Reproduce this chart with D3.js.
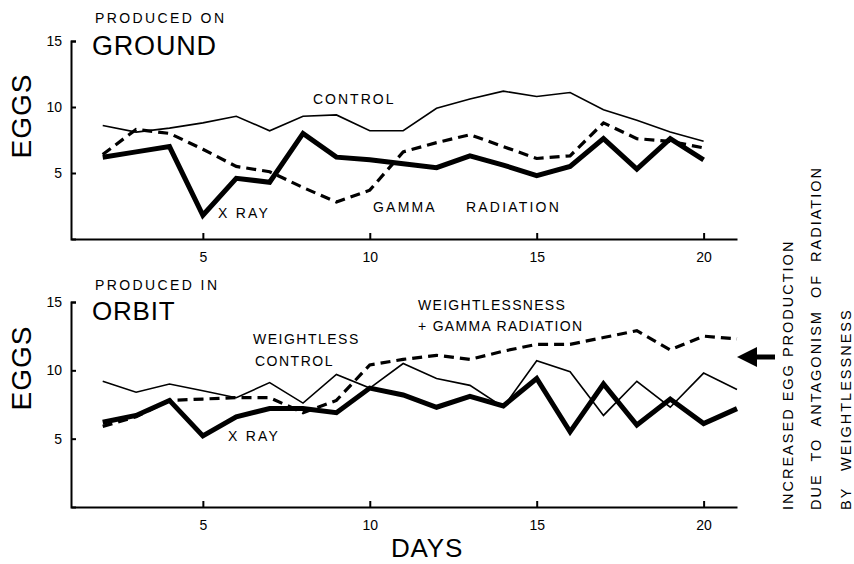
<!DOCTYPE html>
<html><head><meta charset="utf-8">
<script src="https://cdn.jsdelivr.net/npm/d3@7"></script>
<style>
body{margin:0;background:#fff;}
svg text{font-family:"Liberation Sans",Arial,sans-serif;fill:#000;}
</style></head>
<body><svg id="c" width="854" height="564"></svg>
<script>
// ---- data ----
const groundDays = [2,3,4,5,6,7,8,9,10,11,12,13,14,15,16,17,18,19,20];
const groundControl = [8.6,8.1,8.4,8.8,9.3,8.2,9.3,9.4,8.2,8.2,9.9,10.6,11.2,10.8,11.1,9.8,9.0,8.1,7.4];
const groundXray    = [6.2,6.6,7.0,1.8,4.6,4.3,8.0,6.2,6.0,5.7,5.4,6.3,5.6,4.8,5.5,7.6,5.3,7.6,6.0];
const groundGamma   = [6.4,8.3,8.0,6.8,5.5,5.1,3.9,2.8,3.7,6.6,7.3,7.9,7.0,6.1,6.3,8.8,7.6,7.4,6.9];

const orbitDays = [2,3,4,5,6,7,8,9,10,11,12,13,14,15,16,17,18,19,20,21];
const orbitControl = [9.2,8.4,9.0,8.5,8.0,9.1,7.6,9.7,8.7,10.5,9.4,8.9,7.3,10.7,9.9,6.7,9.2,7.3,9.8,8.6];
const orbitXray    = [6.2,6.7,7.8,5.2,6.6,7.2,7.2,6.9,8.7,8.2,7.3,8.1,7.4,9.4,5.5,9.0,6.0,7.9,6.1,7.2];
const orbitGamma   = [5.9,6.6,7.8,7.9,8.0,8.0,6.9,7.8,10.4,10.8,11.1,10.8,11.4,11.9,11.9,12.4,12.9,11.5,12.5,12.3];

const yTicks = [5,10,15];
const xTicks = [5,10,15,20];

// ---- layout ----
const svg = d3.select("#c");
const x = d3.scaleLinear().domain([1.05,21]).range([71,737]);
const yTop = d3.scaleLinear().domain([0,15]).range([239,41]);
const yBot = d3.scaleLinear().domain([0,15]).range([507,302]);

function axes(y, bottomY){
  const ya = svg.append("g").attr("transform","translate(71,0)")
    .call(d3.axisLeft(y).tickValues(yTicks).tickSizeInner(-5).tickSizeOuter(-5).tickPadding(9));
  const xa = svg.append("g").attr("transform",`translate(0,${bottomY})`)
    .call(d3.axisBottom(x).tickValues(xTicks).tickSizeInner(-6).tickSizeOuter(0).tickPadding(13));
  [ya,xa].forEach(a=>{
    a.selectAll("path,line").attr("stroke","#000").attr("stroke-width",2);
    a.selectAll("text").attr("font-size",14).attr("font-family",'"Liberation Sans",Arial,sans-serif');
  });
}
axes(yTop,239);
axes(yBot,507);

function line(days, vals, y, w, dash){
  const gen = d3.line().x((d,i)=>x(days[i])).y(d=>y(d));
  svg.append("path").datum(vals).attr("d",gen)
    .attr("fill","none").attr("stroke","#000").attr("stroke-width",w)
    .attr("stroke-linejoin","miter").attr("stroke-dasharray",dash||null);
}
line(groundDays, groundControl, yTop, 1.6);
line(groundDays, groundGamma, yTop, 3.2, "10,6");
line(groundDays, groundXray, yTop, 5);
line(orbitDays, orbitControl, yBot, 1.6);
line(orbitDays, orbitGamma, yBot, 3.2, "10,6");
line(orbitDays, orbitXray, yBot, 5);

function txt(s, px, py, size, ls, extra){
  const t = svg.append("text").attr("x",px).attr("y",py).attr("font-size",size)
    .attr("letter-spacing",ls).text(s);
  if(extra) extra(t);
  return t;
}
txt("PRODUCED ON",95,23,14,2.4);
txt("GROUND",92,55,27,0.8);
txt("PRODUCED IN",95,290,14,2.4);
txt("ORBIT",92,320,26,0.8);
txt("CONTROL",313,104,14,2);
txt("X RAY",218,218,14,2.2);
txt("GAMMA",373,212,14,2.2);
txt("RADIATION",466,212,14,2.2);
txt("WEIGHTLESSNESS",418,310,14,1.3);
txt("+ GAMMA RADIATION",418,331,14,1.3);
txt("WEIGHTLESS",253,344,14,1.5);
txt("CONTROL",255,366,14,1.5);
txt("X RAY",228,441,14,2.2);
txt("DAYS",427,557,26,0.8, t=>t.attr("text-anchor","middle"));

[[116],[368]].forEach(([cy])=>{
  svg.append("text").attr("transform",`translate(31,${cy}) rotate(-90)`)
    .attr("text-anchor","middle").attr("font-size",28).attr("letter-spacing",1).text("EGGS");
});

const side = [["INCREASED EGG PRODUCTION",793,0],["DUE TO ANTAGONISM OF RADIATION",821,6],["BY WEIGHTLESSNESS",851,10]];
side.forEach(([s,bx,ws])=>{
  svg.append("text").attr("transform",`translate(${bx},510) rotate(-90)`)
    .attr("font-size",14.5).attr("letter-spacing",2).attr("word-spacing",ws).text(s);
});

// arrow
svg.append("path").attr("d","M737,357 L757,347 L757,367 Z").attr("fill","#000");
svg.append("line").attr("x1",752).attr("x2",775).attr("y1",357).attr("y2",357)
  .attr("stroke","#000").attr("stroke-width",5);
</script></body></html>
